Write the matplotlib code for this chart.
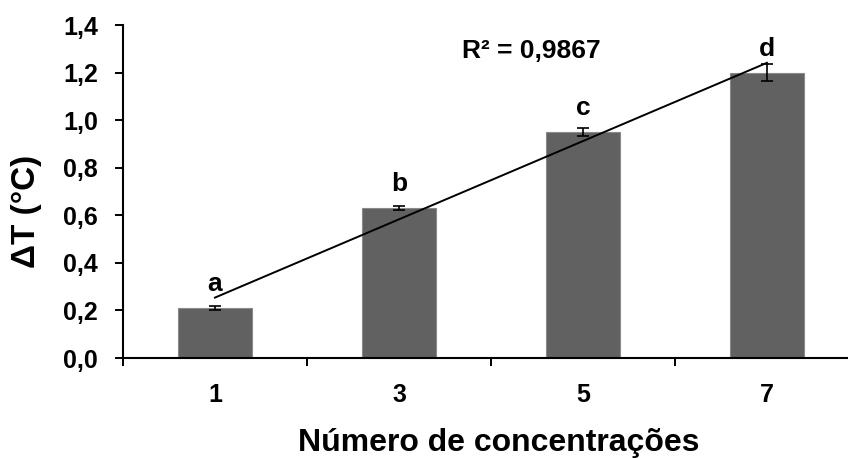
import numpy as np
import matplotlib
matplotlib.use('Agg')
import matplotlib.pyplot as plt
from matplotlib.ticker import FuncFormatter, FixedLocator

plt.rcParams['font.family'] = ['Liberation Sans', 'DejaVu Sans']
plt.rcParams['font.weight'] = 'bold'

# data
categories = ['1', '3', '5', '7']
delta_t = [0.21, 0.63, 0.95, 1.20]
std_err = [0.010, 0.007, 0.015, 0.035]
letters = ['a', 'b', 'c', 'd']
r2_label = 'R² = 0,9867'
y_ticks = [0.0, 0.2, 0.4, 0.6, 0.8, 1.0, 1.2, 1.4]

x = np.arange(len(categories))

fig = plt.figure(figsize=(8.48, 4.58), dpi=100)
ax = fig.add_axes([0.1450, 0.2183, 0.8679, 0.7271])

ax.bar(x, delta_t, width=0.4, color='#616161', edgecolor='#8a8a8a', linewidth=0.8, zorder=2)
ax.errorbar(x, delta_t, yerr=std_err, fmt='none', ecolor='black', elinewidth=1.2,
            capsize=4.3, capthick=1.2, zorder=3)

# linear trend line (Excel style, x = 1..n)
xs = x + 1
slope, intercept = np.polyfit(xs, delta_t, 1)
ax.plot(x, slope * xs + intercept, color='black', lw=1.4, zorder=4)

for xi, v, lt in zip(x, delta_t, letters):
    ax.annotate(lt, (xi, v), xytext=(0, 12), textcoords='offset points',
                ha='center', va='baseline', fontsize=19, fontweight='bold')

ax.text(1.717, 1.26, r2_label, ha='center', va='baseline', fontsize=19, fontweight='bold')

ax.set_xlim(-0.5, len(categories) - 0.5)
ax.set_ylim(0, 1.4)
ax.set_yticks(y_ticks)
ax.yaxis.set_major_formatter(FuncFormatter(lambda v, p: f'{v:.1f}'.replace('.', ',')))

# ticks between categories, labels centred under bars
ax.xaxis.set_major_locator(FixedLocator(np.arange(-0.5, len(categories), 1.0)))
ax.xaxis.set_major_formatter(FuncFormatter(lambda v, p: ''))
ax.xaxis.set_minor_locator(FixedLocator(x))
ax.set_xticklabels(categories, minor=True)

ax.tick_params(axis='y', direction='out', length=6, width=1.4, pad=12, labelsize=18)
ax.tick_params(axis='x', which='major', direction='out', length=6, width=1.4)
ax.tick_params(axis='x', which='minor', length=0, pad=18, labelsize=18)

for s in ['top', 'right']:
    ax.spines[s].set_visible(False)
for s in ['left', 'bottom']:
    ax.spines[s].set_linewidth(1.5)

ax.set_xlabel('Número de concentrações', fontsize=23, fontweight='bold')
ax.xaxis.set_label_coords(0.51, -0.21)
ax.set_ylabel('ΔT (°C)', fontsize=24, fontweight='bold')
ax.yaxis.set_label_coords(-0.11, 0.44)

fig.savefig('out.png', dpi=100)
